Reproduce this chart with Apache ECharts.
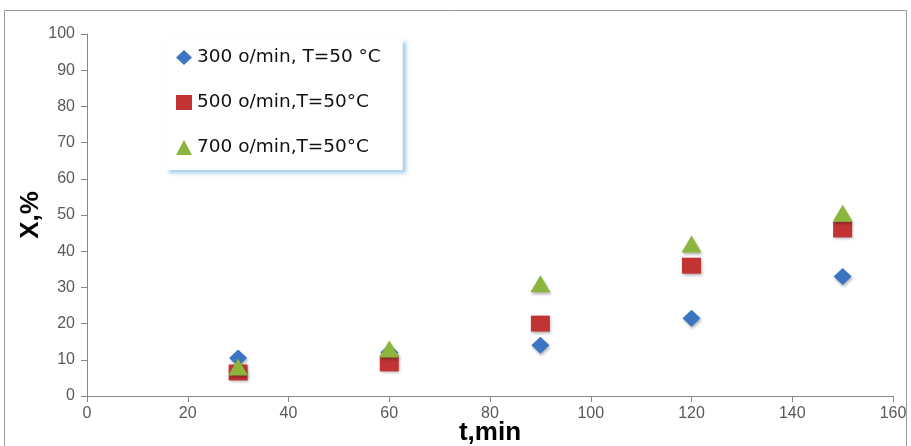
<!DOCTYPE html>
<html>
<head>
<meta charset="utf-8">
<script src="https://cdn.jsdelivr.net/npm/echarts@6/dist/echarts.min.js"></script>
<style>html,body{margin:0;padding:0;background:#fff}#c{width:911px;height:446px}</style>
</head>
<body>
<div id="c"></div>
<script>
const times = [30, 60, 90, 120, 150];
const rpm300 = [10.5, 12, 14, 21.5, 33];
const rpm500 = [6.5, 9, 20, 36, 46];
const rpm700 = [8, 13, 31, 42, 50.5];
const seriesNames = ['300 o/min, T=50 °C', '500 o/min,T=50°C', '700 o/min,T=50°C'];
const xTicks = [0, 20, 40, 60, 80, 100, 120, 140, 160];
const yTicks = [0, 10, 20, 30, 40, 50, 60, 70, 80, 90, 100];

const axisFont = 'Liberation Sans Narrow, Arial Narrow, Liberation Sans, sans-serif';
function pairs(vals){ return times.map((t,i)=>[t, vals[i]]); }
const shadow = {opacity: 1, shadowBlur: 3, shadowColor: 'rgba(0,0,0,0.3)', shadowOffsetX: 1, shadowOffsetY: 2};

const chart = echarts.init(document.getElementById('c'));
chart.setOption({
  animation: false,
  backgroundColor: '#fff',
  graphic: [{type:'rect', shape:{x:4.5, y:10.5, width:902, height:445}, style:{fill:'none', stroke:'#9a9a9a', lineWidth:1}, z:-1}],
  grid: {left: 87, right: 18, top: 34, bottom: 50, containLabel: false, outerBoundsMode: 'none'},
  legend: {
    orient: 'vertical', left: 166, top: 39,
    padding: [9, 22, 13, 10], itemGap: 26,
    itemWidth: 16, itemHeight: 15,
    backgroundColor: '#fff',
    shadowColor: 'rgba(120,180,225,0.7)', shadowBlur: 4, shadowOffsetX: 3, shadowOffsetY: 3,
    textStyle: {fontFamily: 'DejaVu Sans, Verdana, sans-serif', fontSize: 18.5, color: '#111'},
    data: seriesNames
  },
  xAxis: {
    type: 'value', min: 0, max: 160, interval: 20,
    name: 't,min', nameLocation: 'middle', nameGap: 24, nameMoveOverlap: false,
    nameTextStyle: {fontFamily: 'Liberation Sans, Arial, sans-serif', fontWeight: 'bold', fontSize: 26, color: '#000'},
    axisLine: {show: true, lineStyle: {color: '#868686'}},
    axisTick: {show: true, length: 6, lineStyle: {color: '#868686'}},
    axisLabel: {fontFamily: axisFont, fontSize: 16, color: '#595959', margin: 10,
      formatter: v => xTicks.includes(v) ? String(v) : ''},
    splitLine: {show: false}
  },
  yAxis: {
    type: 'value', min: 0, max: 100, interval: 10,
    name: 'X,%', nameLocation: 'middle', nameGap: 43, nameRotate: 90, nameMoveOverlap: false,
    nameTextStyle: {fontFamily: 'Liberation Sans, Arial, sans-serif', fontWeight: 'bold', fontSize: 26, color: '#000'},
    axisLine: {show: true, lineStyle: {color: '#868686'}},
    axisTick: {show: true, length: 6, lineStyle: {color: '#868686'}},
    axisLabel: {fontFamily: axisFont, fontSize: 16, color: '#595959', margin: 12,
      formatter: v => yTicks.includes(v) ? String(v) : ''},
    splitLine: {show: false}
  },
  series: [
    {name: seriesNames[0], type: 'scatter', symbol: 'diamond', symbolSize: [18, 17], z: 2,
     itemStyle: Object.assign({color: '#3a74c2'}, shadow), data: pairs(rpm300)},
    {name: seriesNames[1], type: 'scatter', symbol: 'rect', symbolSize: [19, 16], z: 3,
     itemStyle: Object.assign({color: '#c23434'}, shadow), data: pairs(rpm500)},
    {name: seriesNames[2], type: 'scatter', symbol: 'triangle', symbolSize: [20, 17], z: 4,
     itemStyle: Object.assign({color: '#8bb53c'}, shadow), data: pairs(rpm700)}
  ]
});
</script>
</body>
</html>
